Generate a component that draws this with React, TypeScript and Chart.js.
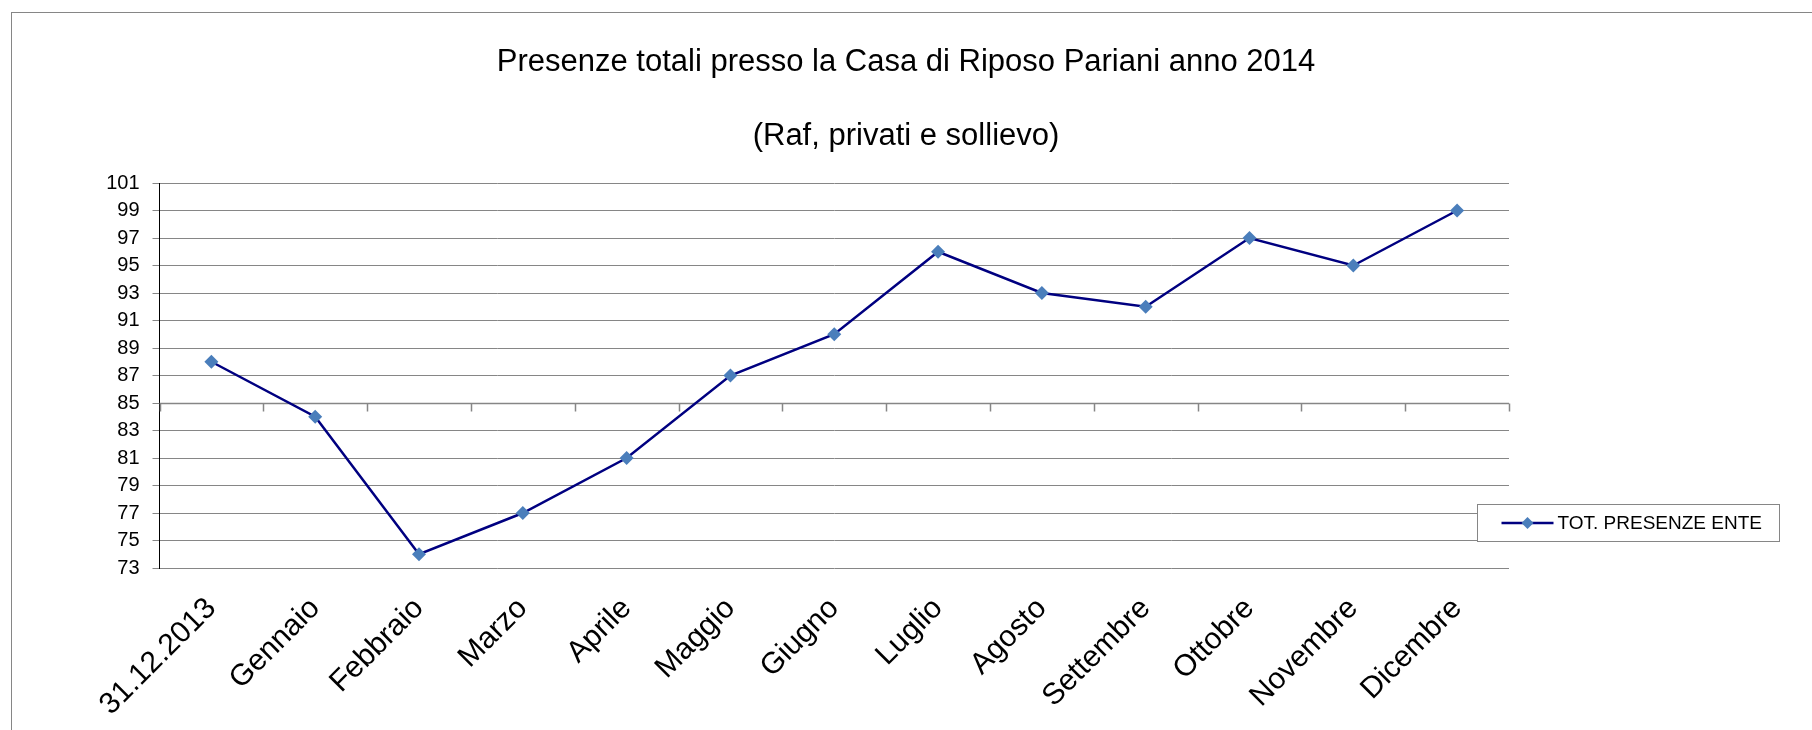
import React, { useEffect, useRef } from "react";
import { Chart, registerables } from "chart.js";

Chart.register(...registerables);

const categories = [
  "31.12.2013",
  "Gennaio",
  "Febbraio",
  "Marzo",
  "Aprile",
  "Maggio",
  "Giugno",
  "Luglio",
  "Agosto",
  "Settembre",
  "Ottobre",
  "Novembre",
  "Dicembre",
];
const presenze = [88, 84, 74, 77, 81, 87, 90, 96, 93, 92, 97, 95, 99];
const seriesLabel = "TOT. PRESENZE ENTE";
const titleLines = [
  "Presenze totali presso la Casa di Riposo Pariani anno 2014",
  "(Raf, privati e sollievo)",
];
const yMin = 73;
const yMax = 101;
const yStep = 2;
const yCross = 85;

const FONT = "'Liberation Sans', Arial, Helvetica, sans-serif";
const W = 1812;
const H = 730;

const framePlugin = {
  id: "frameTitle",
  beforeDraw(chart: any) {
    const ctx = chart.ctx;
    ctx.save();
    ctx.fillStyle = "#ffffff";
    ctx.fillRect(0, 0, chart.width, chart.height);
    ctx.strokeStyle = "#868686";
    ctx.lineWidth = 1;
    ctx.strokeRect(11.5, 12.5, chart.width + 50, chart.height + 50);
    ctx.fillStyle = "#000000";
    ctx.textAlign = "center";
    ctx.textBaseline = "alphabetic";
    ctx.font = `31px ${FONT}`;
    ctx.fillText(titleLines[0], chart.width / 2, 71);
    ctx.fillText(titleLines[1], chart.width / 2, 145);
    ctx.restore();
  },
};

const crossAxisPlugin = {
  id: "crossAxis",
  beforeDatasetsDraw(chart: any) {
    const ctx = chart.ctx;
    const xs = chart.scales.x;
    const ys = chart.scales.y;
    const y = Math.round(ys.getPixelForValue(yCross)) + 0.5;
    const step = xs.getPixelForValue(1) - xs.getPixelForValue(0);
    ctx.save();
    ctx.strokeStyle = "#868686";
    ctx.lineWidth = 1.5;
    ctx.beginPath();
    ctx.moveTo(xs.left, y);
    ctx.lineTo(xs.right, y);
    for (let i = 0; i <= categories.length; i++) {
      const x = Math.round(xs.getPixelForValue(0) - step / 2 + i * step) + 0.5;
      ctx.moveTo(x, y);
      ctx.lineTo(x, y + 8);
    }
    ctx.stroke();
    ctx.restore();
  },
};

const legendPlugin = {
  id: "boxLegend",
  afterDraw(chart: any) {
    const ctx = chart.ctx;
    const ds = chart.data.datasets[0];
    const bx = 1477.5;
    const by = 504.5;
    const bw = 302;
    const bh = 37;
    ctx.save();
    ctx.fillStyle = "#ffffff";
    ctx.fillRect(bx, by, bw, bh);
    ctx.strokeStyle = "#868686";
    ctx.lineWidth = 1;
    ctx.strokeRect(bx, by, bw, bh);
    const cy = by + bh / 2;
    ctx.strokeStyle = ds.borderColor;
    ctx.lineWidth = 2.5;
    ctx.beginPath();
    ctx.moveTo(bx + 24, cy);
    ctx.lineTo(bx + 76, cy);
    ctx.stroke();
    const mx = bx + 50;
    const r = 6;
    ctx.fillStyle = ds.pointBackgroundColor;
    ctx.beginPath();
    ctx.moveTo(mx, cy - r);
    ctx.lineTo(mx + r, cy);
    ctx.lineTo(mx, cy + r);
    ctx.lineTo(mx - r, cy);
    ctx.closePath();
    ctx.fill();
    ctx.fillStyle = "#000000";
    ctx.font = `19px ${FONT}`;
    ctx.textAlign = "left";
    ctx.textBaseline = "middle";
    ctx.fillText(ds.label, bx + 80, cy + 1);
    ctx.restore();
  },
};

export default function App() {
  const canvasRef = useRef<HTMLCanvasElement | null>(null);

  useEffect(() => {
    document.body.style.margin = "0";
    const canvas = canvasRef.current;
    if (!canvas) return;
    const chart = new Chart(canvas, {
      type: "line",
      data: {
        labels: categories,
        datasets: [
          {
            label: seriesLabel,
            data: presenze,
            borderColor: "#000080",
            borderWidth: 2.5,
            tension: 0,
            pointStyle: "rectRot",
            pointRadius: 7,
            pointBackgroundColor: "#4a7ebb",
            pointBorderColor: "#4a7ebb",
            pointBorderWidth: 0,
            fill: false,
          },
        ],
      },
      options: {
        animation: false,
        responsive: false,
        devicePixelRatio: 1,
        layout: { padding: { top: 183, right: 303, left: 0, bottom: 0 } },
        plugins: {
          legend: { display: false },
          title: { display: false },
          tooltip: { enabled: false },
        },
        scales: {
          x: {
            type: "category",
            offset: true,
            grid: { display: false, drawTicks: false },
            border: { display: false },
            ticks: {
              autoSkip: false,
              minRotation: 45,
              maxRotation: 45,
              color: "#000000",
              padding: 23,
              labelOffset: 0,
              font: { size: 30, family: FONT },
            },
            afterFit: (s: any) => {
              s.height = 162;
            },
          },
          y: {
            min: yMin,
            max: yMax,
            ticks: {
              stepSize: yStep,
              color: "#000000",
              padding: 13,
              font: { size: 20, family: FONT },
            },
            grid: {
              color: "#868686",
              lineWidth: 1,
              tickLength: 7,
              drawTicks: true,
            },
            border: { display: true, color: "#000000", width: 1 },
            afterFit: (s: any) => {
              s.width = 159.5;
            },
          },
        },
      },
      plugins: [framePlugin, crossAxisPlugin, legendPlugin],
    });
    return () => chart.destroy();
  }, []);

  return (
    <div style={{ position: "absolute", left: 0, top: 0, width: W, height: H }}>
      <canvas ref={canvasRef} width={W} height={H} style={{ width: W, height: H, display: "block" }} />
    </div>
  );
}
